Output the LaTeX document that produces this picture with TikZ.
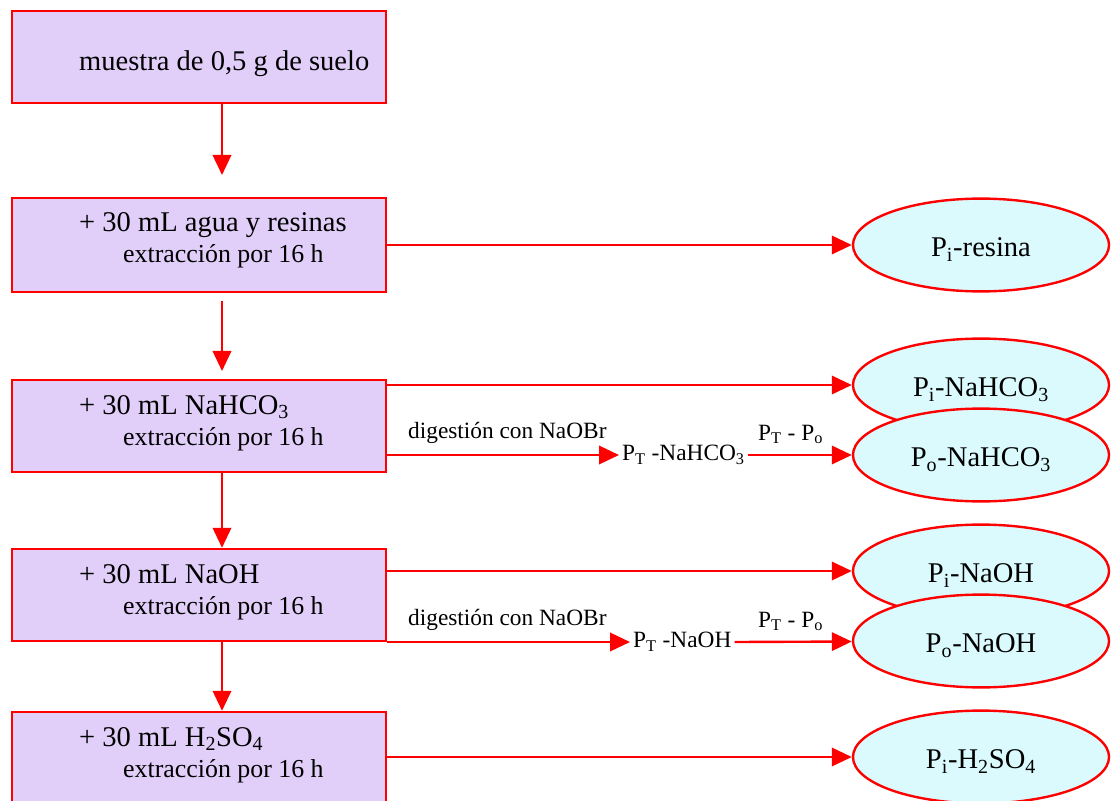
\documentclass[tikz,border=0pt]{standalone}
\usepackage{fontspec}
\setmainfont{Liberation Serif}
\usetikzlibrary{arrows.meta, positioning, shapes.geometric, calc}
\definecolor{cred}{HTML}{FF0000}
\definecolor{clav}{HTML}{E1CFFA}
\definecolor{ccyan}{HTML}{DAFAFD}
\tikzset{
  every picture/.style={line width=1.7pt},
  stepbox/.style={draw=cred, fill=clav, minimum width=9.35cm, minimum height=#1, inner sep=0pt},
  stepbox/.default=2.3cm,
  result/.style={ellipse, draw=cred, fill=ccyan, minimum width=6.4cm, minimum height=2.32cm, inner sep=0pt,
    text height=17pt, text depth=0pt, font=\fontsize{20.3}{22}\selectfont},
  arrow/.style={-{Triangle[length=5mm, width=4.6mm]}, draw=cred, line width=1.7pt},
  big/.style={font=\fontsize{20.3}{22}\selectfont, anchor=base west, inner sep=0pt},
  small/.style={font=\fontsize{18.4}{20}\selectfont, anchor=base west, inner sep=0pt},
  note/.style={font=\fontsize{16.6}{18}\selectfont, inner sep=1.4pt},
}

\begin{document}
\begin{tikzpicture}[x=0.025cm, y=-0.025cm]
  \useasboundingbox (0,0) rectangle (1112,801);
  \node[stepbox] (b1) at (199,57) {};
  \node[stepbox=2.35cm] (b2) at (199,245) {};
  \node[stepbox] (b3) at (199,426) {};
  \node[stepbox] (b4) at (199,595) {};
  \node[stepbox] (b5) at (199,758) {};
  \node[big] (t1) at (78,71) {muestra de 0,5 g de suelo};
  \node[big] (t2) at (78,232) {+ 30 mL agua y resinas};
  \node[small] (e2) at (122,263) {extracción por 16 h};
  \node[big] (t3) at (78,414) {+ 30 mL NaHCO\textsubscript{3}};
  \node[small] (e3) at (122,445) {extracción por 16 h};
  \node[big] (t4) at (78,583) {+ 30 mL NaOH};
  \node[small] (e4) at (122,614) {extracción por 16 h};
  \node[big] (t5) at (78,746) {+ 30 mL H\textsubscript{2}SO\textsubscript{4}};
  \node[small] (e5) at (122,777) {extracción por 16 h};

  \node[result] (pi2) at (981,245) {P\textsubscript{i}-resina};
  \node[result] (pi3) at (981,385) {P\textsubscript{i}-NaHCO\textsubscript{3}};
  \node[result] (po3) at (981,455) {P\textsubscript{o}-NaHCO\textsubscript{3}};
  \node[result] (pi4) at (981,571) {P\textsubscript{i}-NaOH};
  \node[result] (po4) at (981,641) {P\textsubscript{o}-NaOH};
  \node[result] (pi5) at (981,757) {P\textsubscript{i}-H\textsubscript{2}SO\textsubscript{4}};

  \node[note, anchor=west] (pt3) at (619,455) {P\textsubscript{T} -NaHCO\textsubscript{3}};
  \node[note, anchor=west] (pt4) at (630,642) {P\textsubscript{T} -NaOH};
  \node[note, anchor=base west] (d3) at (405,438) {digestión con NaOBr};
  \node[note, anchor=base west] (d4) at (405,625) {digestión con NaOBr};
  \node[note, anchor=base west] (m3) at (755,440) {P\textsubscript{T} - P\textsubscript{o}};
  \node[note, anchor=base west] (m4) at (755,627) {P\textsubscript{T} - P\textsubscript{o}};

  \coordinate (vx) at (222,0);
  \coordinate (a1) at (222,175);
  \coordinate (s2) at (222,301);
  \coordinate (a2) at (222,371);
  \draw[arrow] (b1.south -| vx) -- (a1);
  \draw[arrow] (s2) -- (a2);
  \draw[arrow] (b3.south -| vx) -- (b4.north -| vx);
  \draw[arrow] (b4.south -| vx) -- (b5.north -| vx);

  \draw[arrow] (b2.east |- pi2) -- (pi2);
  \draw[arrow] (b3.east |- pi3) -- (pi3);
  \draw[arrow] (b3.east |- pt3.west) -- (pt3.west);
  \draw[arrow] (pt3.east) -- (po3);
  \draw[arrow] (b4.east |- pi4) -- (pi4);
  \draw[arrow] (b4.east |- pt4.west) -- (pt4.west);
  \draw[arrow] (pt4.east) -- (po4);
  \draw[arrow] (b5.east |- pi5) -- (pi5);
\end{tikzpicture}
\end{document}
